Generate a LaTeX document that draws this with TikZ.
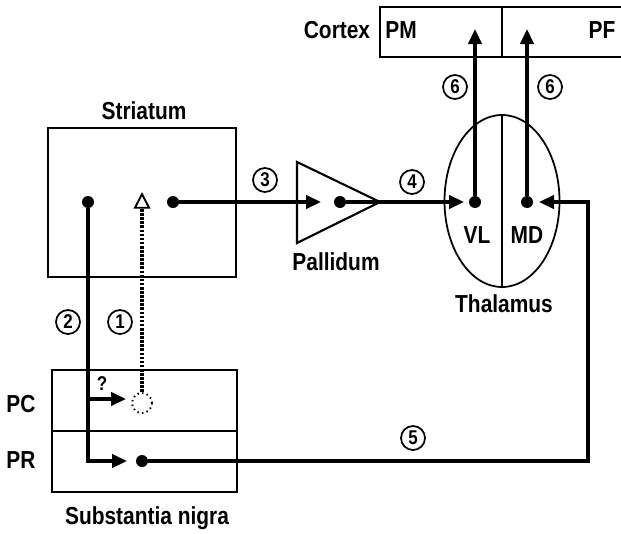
\documentclass[tikz,border=0pt]{standalone}
\usepackage{fontspec}
\setmainfont{Liberation Sans}[FakeStretch=0.85]
\usetikzlibrary{arrows.meta, shapes.geometric}

\begin{document}
\begin{tikzpicture}[
    x=0.03cm, y=-0.03cm,
    region/.style={rectangle, draw, line width=1.8pt, inner sep=0pt},
    lbl/.style={anchor=base, inner sep=0pt, font=\fontsize{21}{21}\selectfont\bfseries},
    num/.style={circle, draw, line width=1.5pt, inner sep=0pt, minimum size=0.72cm, font=\fontsize{17}{17}\selectfont\bfseries},
    dot/.style={circle, fill, inner sep=0pt, minimum size=0.36cm},
    conn/.style={line width=2.6pt, -{Triangle[length=0.45cm, width=0.4cm]}},
    nigro/.style={line width=3.2pt, dash pattern=on 2.2pt off 1.3pt, -{Triangle[open, length=0.5cm, width=0.5cm, line width=1.6pt]}},
]
    \useasboundingbox (0,0) rectangle (621,533);
    \clip (0,0) rectangle (621,533);

    % Striatum
    \node[region, minimum width=5.64cm, minimum height=4.47cm] (str) at (142,202.5) {};
    \node[lbl] (strl) at (144,119) {Striatum};
    \node[dot] (sl) at (88,202) {};
    \node[dot] (sr) at (173,202) {};
    \coordinate (sin) at (142,192);

    % Substantia nigra
    \node[region, minimum width=5.55cm, minimum height=1.83cm] (pc) at (144.5,400.5) {};
    \node[region, minimum width=5.55cm, minimum height=1.83cm] (pr) at (144.5,461.5) {};
    \node[lbl] (pcl) at (21,412) {PC};
    \node[lbl] (prl) at (21,468) {PR};
    \node[lbl] (snl) at (147,524) {Substantia nigra};
    \node[circle, draw, line width=1.6pt, dash pattern=on 1.2pt off 2.8pt, minimum size=0.6cm, inner sep=0pt] (pccell) at (142,403) {};
    \node[dot] (prdot) at (142,461) {};
    \coordinate (pcfork) at (88,399);
    \coordinate (pcin) at (126,399);
    \coordinate (prfork) at (88,461);
    \coordinate (prin) at (127,461);
    \node[lbl, font=\fontsize{17}{17}\selectfont\bfseries] (qm) at (102,390) {?};

    % Pallidum
    \coordinate (palt) at (297,162);
    \coordinate (paltip) at (380,202);
    \coordinate (palb) at (297,243);
    \draw[line width=1.8pt] (palt) -- (paltip) -- (palb) -- cycle;
    \node[lbl] (pall) at (336,270) {Pallidum};
    \coordinate (palin) at (321,202);
    \node[dot] (paldot) at (340,202) {};

    % Thalamus
    \node[ellipse, draw, line width=1.5pt, inner sep=0pt, minimum width=3.45cm, minimum height=5.16cm] (thal) at (502,201) {};
    \draw[line width=1.5pt] (thal.north) -- (thal.south);
    \node[lbl] (thall) at (504,312) {Thalamus};
    \node[lbl] (vll) at (477,243) {VL};
    \node[lbl] (mdl) at (527,243) {MD};
    \node[dot] (vl) at (475,202) {};
    \node[dot] (md) at (527,202) {};
    \coordinate (vlin) at (464,202);
    \coordinate (mdin) at (539,202);

    % Cortex
    \node[region, minimum width=3.66cm, minimum height=1.5cm] (pm) at (441,32) {};
    \node[region, minimum width=4.74cm, minimum height=1.5cm] (pf) at (581,32) {};
    \node[lbl] (cxl) at (337,38) {Cortex};
    \node[lbl] (pml) at (401,38) {PM};
    \node[lbl] (pfl) at (602,38) {PF};
    \coordinate (pmin) at (475,29);
    \coordinate (pfin) at (527,29);

    % Connections
    \draw[nigro] (pccell.north) -- (sin);
    \draw[conn] (sl) -- (prfork) -- (prin);
    \draw[conn] (pcfork) -- (pcin);
    \draw[conn] (sr) -- (palin);
    \draw[conn] (paldot) -- (vlin);
    \draw[conn] (vl) -- (pmin);
    \draw[conn] (md) -- (pfin);
    \coordinate (turn) at (588,461);
    \draw[conn] (prdot) -- (turn) |- (mdin);

    % Numbers
    \node[num] (n1) at (120,322) {1};
    \node[num] (n2) at (68,322) {2};
    \node[num] (n3) at (265,180) {3};
    \node[num] (n4) at (412,182) {4};
    \node[num] (n5) at (413,438) {5};
    \node[num] (n6a) at (455,87) {6};
    \node[num] (n6b) at (550,87) {6};
\end{tikzpicture}
\end{document}
